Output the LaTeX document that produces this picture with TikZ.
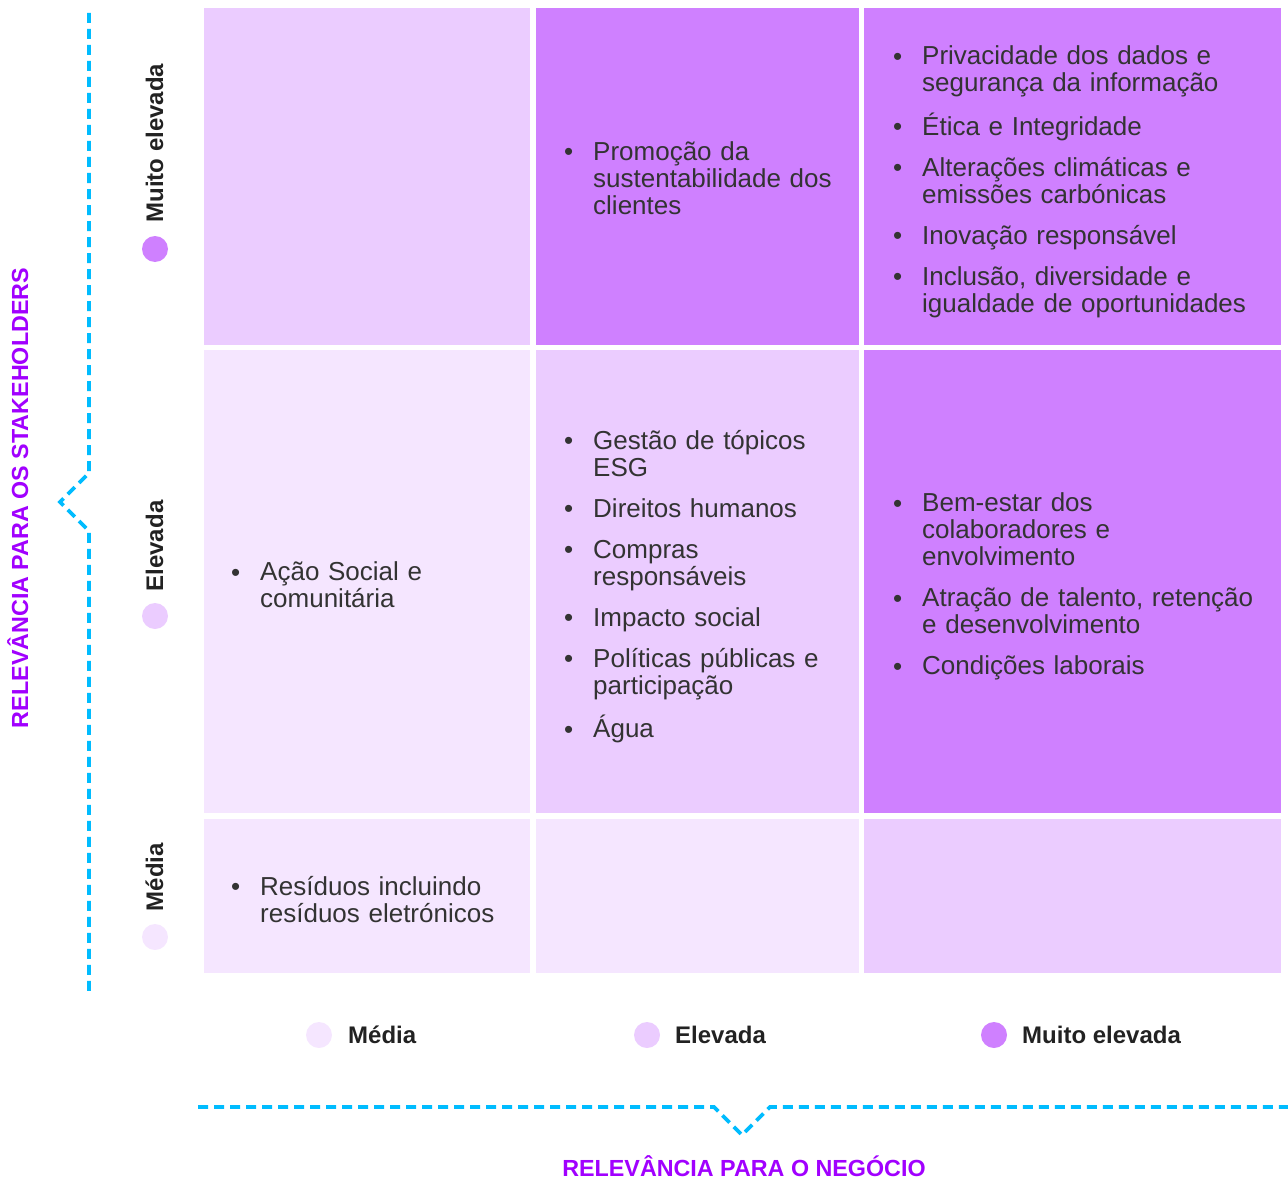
\documentclass[tikz,border=0pt]{standalone}
\usepackage{fontspec}
\setmainfont{Liberation Sans}
\usetikzlibrary{positioning}

\definecolor{lilacdark}{HTML}{CF80FF}
\definecolor{lilacmid}{HTML}{EBCCFF}
\definecolor{lilaclight}{HTML}{F5E6FF}
\definecolor{titlepurple}{HTML}{A100FF}
\definecolor{dashblue}{HTML}{00BCFF}
\definecolor{textgray}{HTML}{333333}
\definecolor{labelgray}{HTML}{222222}

\newcommand{\corpo}{\fontsize{26}{27}\selectfont}
\newcommand{\rotulo}{\fontsize{24}{26}\selectfont\bfseries}
\newcommand{\titulo}{\fontsize{23.3}{24}\selectfont\bfseries}
\newcommand{\marca}{\raisebox{-0.5pt}{\fontsize{26}{26}\selectfont\textbullet}}
\newcommand{\pontos}[1]{%
  \setlength{\topsep}{0pt}\setlength{\partopsep}{0pt}\setlength{\parskip}{0pt}%
  \setlength{\leftmargini}{26pt}\renewcommand{\labelitemi}{\marca}%
  \begin{itemize}\setlength{\itemsep}{10pt}\setlength{\parsep}{0pt}\setlength{\labelsep}{20pt}#1\end{itemize}}

\begin{document}
\begin{tikzpicture}[x=1pt,y=-1pt,
  cell/.style={inner sep=0pt,anchor=north west},
  lista/.style={anchor=west,inner sep=0pt,text width=380pt,align=left,font=\corpo,text=textgray},
  ponto/.style={circle,inner sep=0pt,minimum size=26pt},
  eixo/.style={inner sep=0pt,font=\rotulo,text=labelgray},
  titulo/.style={inner sep=0pt,anchor=base,font=\titulo,text=titlepurple},
  tracejado/.style={draw=dashblue,line width=3.8pt,dash pattern=on 10pt off 6pt}]
	\useasboundingbox (0,0) rectangle (1288,1180);

	% Matriz 3x3
	\node[cell,fill=lilacmid,minimum width=326,minimum height=337] (c11) at (204,8) {};
	\node[cell,fill=lilacdark,minimum width=323,minimum height=337] (c12) at (536,8) {};
	\node[cell,fill=lilacdark,minimum width=417,minimum height=337] (c13) at (864,8) {};
	\node[cell,fill=lilaclight,minimum width=326,minimum height=463] (c21) at (204,350) {};
	\node[cell,fill=lilacmid,minimum width=323,minimum height=463] (c22) at (536,350) {};
	\node[cell,fill=lilacdark,minimum width=417,minimum height=463] (c23) at (864,350) {};
	\node[cell,fill=lilaclight,minimum width=326,minimum height=154] (c31) at (204,819) {};
	\node[cell,fill=lilaclight,minimum width=323,minimum height=154] (c32) at (536,819) {};
	\node[cell,fill=lilacmid,minimum width=417,minimum height=154] (c33) at (864,819) {};

	% Tópicos
	\node[lista] (t12) at ([xshift=31pt,yshift=7pt]c12.west) {\pontos{%
		\item Promoção da\\ sustentabilidade dos\\ clientes}};
	\node[lista] (t13) at ([xshift=32pt,yshift=3pt]c13.west) {\pontos{%
		\item Privacidade dos dados e\\ segurança da informação
		\item Ética e Integridade
		\item Alterações climáticas e\\ emissões carbónicas
		\item Inovação responsável
		\item Inclusão, diversidade e\\ igualdade de oportunidades}};
	\node[lista] (t21) at ([xshift=30pt,yshift=5pt]c21.west) {\pontos{%
		\item Ação Social e\\ comunitária}};
	\node[lista] (t22) at ([xshift=31pt,yshift=3pt]c22.west) {\pontos{%
		\item Gestão de tópicos\\ ESG
		\item Direitos humanos
		\item Compras\\ responsáveis
		\item Impacto social
		\item Políticas públicas e\\ participação
		\item Água}};
	\node[lista] (t23) at ([xshift=32pt,yshift=3pt]c23.west) {\pontos{%
		\item Bem-estar dos\\ colaboradores e\\ envolvimento
		\item Atração de talento, retenção\\ e desenvolvimento
		\item Condições laborais}};
	\node[lista] (t31) at ([xshift=30pt,yshift=5pt]c31.west) {\pontos{%
		\item Resíduos incluindo\\ resíduos eletrónicos}};

	% Eixo vertical
	\node[eixo,rotate=90,anchor=base] (lv3) at (163,143) {Muito elevada};
	\node[ponto,fill=lilacdark] (pv3) at (155,249) {};
	\node[eixo,rotate=90,anchor=base] (lv2) at (163,546) {Elevada};
	\node[ponto,fill=lilacmid] (pv2) at (155,616) {};
	\node[eixo,rotate=90,anchor=base] (lv1) at (163,877) {Média};
	\node[ponto,fill=lilaclight] (pv1) at (155,937) {};

	% Eixo horizontal
	\node[ponto,fill=lilaclight] (ph1) at (319,1035) {};
	\node[eixo,anchor=base west] (lh1) at (348,1043) {Média};
	\node[ponto,fill=lilacmid] (ph2) at (647,1035) {};
	\node[eixo,anchor=base west] (lh2) at (675,1043) {Elevada};
	\node[ponto,fill=lilacdark] (ph3) at (994,1035) {};
	\node[eixo,anchor=base west] (lh3) at (1022,1043) {Muito elevada};

	% Chavetas tracejadas
	\draw[tracejado] (89,13) -- (89,473) -- (60,502) -- (89,531) -- (89,993);
	\draw[tracejado] (198,1107) -- (714,1107) -- (742,1135) -- (770,1107) -- (1288,1107);

	% Títulos
	\node[titulo,rotate=90] (tv) at (28,498) {RELEVÂNCIA PARA OS STAKEHOLDERS};
	\node[titulo] (th) at (744,1176) {RELEVÂNCIA PARA O NEGÓCIO};
\end{tikzpicture}
\end{document}
